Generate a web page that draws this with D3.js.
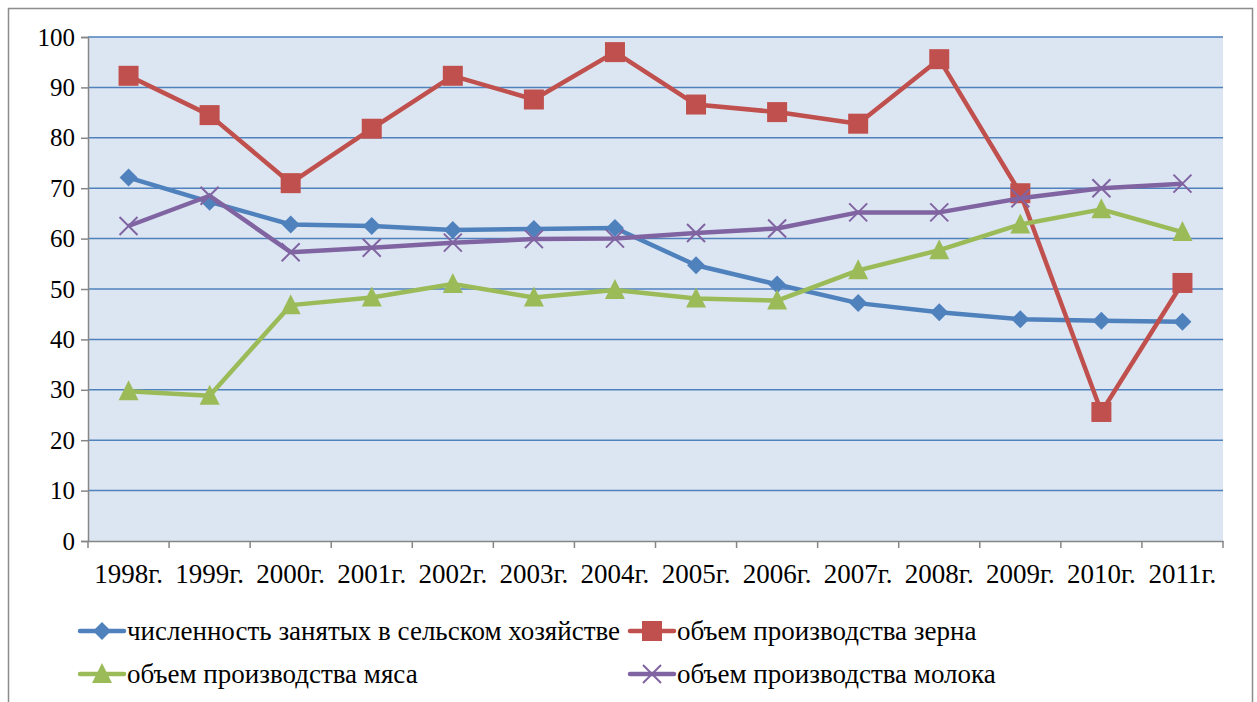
<!DOCTYPE html>
<html>
<head>
<meta charset="utf-8">
<script src="https://cdn.jsdelivr.net/npm/d3@7"></script>
<style>
  body { margin: 0; background: #fff; }
  svg { display: block; }
</style>
</head>
<body>
<div id="chart"></div>
<script>
// data
var years = ["1998г.", "1999г.", "2000г.", "2001г.", "2002г.", "2003г.", "2004г.",
             "2005г.", "2006г.", "2007г.", "2008г.", "2009г.", "2010г.", "2011г."];
var workers = [72.1, 67.3, 62.8, 62.5, 61.7, 61.9, 62.1, 54.7, 50.9, 47.2, 45.4, 44.0, 43.7, 43.5];
var grain   = [92.3, 84.5, 71.0, 81.8, 92.3, 87.6, 97.0, 86.6, 85.1, 82.8, 95.6, 69.0, 25.6, 51.2];
var meat    = [29.7, 28.8, 46.8, 48.3, 51.0, 48.3, 49.8, 48.1, 47.7, 53.7, 57.7, 62.8, 65.8, 61.3];
var milk    = [62.5, 68.5, 57.3, 58.2, 59.2, 59.9, 60.0, 61.1, 62.0, 65.2, 65.2, 68.0, 70.0, 70.9];
var yTicks  = [0, 10, 20, 30, 40, 50, 60, 70, 80, 90, 100];

var seriesNames = ["численность занятых в сельском хозяйстве", "объем производства зерна",
                   "объем производства мяса", "объем производства молока"];

var series = [
  {name: seriesNames[0], values: workers, color: "#4F81BD", marker: "diamond"},
  {name: seriesNames[1], values: grain,   color: "#C0504D", marker: "square"},
  {name: seriesNames[2], values: meat,    color: "#9BBB59", marker: "triangle"},
  {name: seriesNames[3], values: milk,    color: "#8064A2", marker: "cross"}
];

var W = 1257, H = 702;
var plot = {left: 88, right: 1223, top: 37, bottom: 541};
var fontFamily = "'Liberation Serif', 'Times New Roman', serif";

// set font as inline style so nothing overrides it
function setFont(sel, size){
  sel.style("font-family", fontFamily, "important")
     .style("font-size", size, "important")
     .style("fill", "#000");
}

var svg = d3.select("#chart").append("svg")
    .attr("width", W).attr("height", H);

// outer frame
svg.append("rect")
   .attr("x", 8.5).attr("y", 8.5)
   .attr("width", 1244).attr("height", 720)
   .attr("fill", "#fff")
   .attr("stroke", "#8c8c8c").attr("stroke-width", 1.5);

var xScale = d3.scaleBand()
    .domain(years)
    .range([plot.left, plot.right]);

var yScale = d3.scaleLinear()
    .domain([0, 100])
    .range([plot.bottom, plot.top]);

// plot background
svg.append("rect")
   .attr("x", plot.left).attr("y", plot.top)
   .attr("width", plot.right - plot.left)
   .attr("height", plot.bottom - plot.top)
   .attr("fill", "#DCE6F2");

// gridlines
svg.append("g")
   .selectAll("line")
   .data(yTicks.filter(function(d){ return d > 0; }))
   .enter()
   .append("line")
   .attr("x1", plot.left).attr("x2", plot.right)
   .attr("y1", function(d){ return yScale(d); })
   .attr("y2", function(d){ return yScale(d); })
   .attr("stroke", "#4F81BD").attr("stroke-width", 1.5);

// y axis
var yAxis = svg.append("g")
   .attr("transform", "translate(" + plot.left + ",0)")
   .call(d3.axisLeft(yScale).tickValues(yTicks).tickSize(7).tickPadding(6));

// x axis
var xAxis = svg.append("g")
   .attr("transform", "translate(0," + plot.bottom + ")")
   .call(d3.axisBottom(xScale).tickSize(0).tickPadding(23));

// x ticks on category boundaries
xAxis.append("g")
   .selectAll("line")
   .data(d3.range(years.length + 1))
   .enter()
   .append("line")
   .attr("x1", function(i){ return plot.left + i * xScale.step(); })
   .attr("x2", function(i){ return plot.left + i * xScale.step(); })
   .attr("y1", 0).attr("y2", 7)
   .attr("stroke", "#868686").attr("stroke-width", 1.5);

[xAxis, yAxis].forEach(function(ax){
  ax.attr("font-family", null).attr("font-size", null);
  ax.select(".domain").attr("stroke", "#868686").attr("stroke-width", 1.5);
  ax.selectAll(".tick line").attr("stroke", "#868686").attr("stroke-width", 1.5);
});
setFont(xAxis.selectAll("text"), "27px");
setFont(yAxis.selectAll("text"), "25px");

function xPos(i){ return xScale(years[i]) + xScale.bandwidth() / 2; }

function drawMarker(g, type, color, x, y){
  if (type === "diamond") {
    g.append("path")
     .attr("d", "M" + x + "," + (y - 9) + "L" + (x + 9) + "," + y + "L" + x + "," + (y + 9) + "L" + (x - 9) + "," + y + "Z")
     .attr("fill", color);
  } else if (type === "square") {
    g.append("rect")
     .attr("x", x - 10).attr("y", y - 10)
     .attr("width", 20).attr("height", 20)
     .attr("fill", color);
  } else if (type === "triangle") {
    g.append("path")
     .attr("d", "M" + x + "," + (y - 11) + "L" + (x + 10) + "," + (y + 9) + "L" + (x - 10) + "," + (y + 9) + "Z")
     .attr("fill", color);
  } else {
    g.append("path")
     .attr("d", "M" + (x - 9) + "," + (y - 9) + "L" + (x + 9) + "," + (y + 9) + "M" + (x - 9) + "," + (y + 9) + "L" + (x + 9) + "," + (y - 9))
     .attr("stroke", color).attr("stroke-width", 2).attr("fill", "none");
  }
}

var line = d3.line()
    .x(function(d, i){ return xPos(i); })
    .y(function(d){ return yScale(d); });

// lines and markers
series.forEach(function(s){
  var g = svg.append("g");
  g.append("path")
   .attr("d", line(s.values))
   .attr("fill", "none")
   .attr("stroke", s.color)
   .attr("stroke-width", 4.5)
   .attr("stroke-linejoin", "round");
  s.values.forEach(function(v, i){
    drawMarker(g, s.marker, s.color, xPos(i), yScale(v));
  });
});

// legend
var legendPos = [
  {x: 80, y: 631}, {x: 630, y: 631},
  {x: 80, y: 674}, {x: 630, y: 674}
];
series.forEach(function(s, i){
  var p = legendPos[i];
  var g = svg.append("g");
  g.append("line")
   .attr("x1", p.x).attr("x2", p.x + 44)
   .attr("y1", p.y).attr("y2", p.y)
   .attr("stroke", s.color).attr("stroke-width", 4.5)
   .attr("stroke-linecap", "round");
  drawMarker(g, s.marker, s.color, p.x + 22, p.y);
  g.append("text")
   .attr("x", p.x + 47).attr("y", p.y)
   .attr("dy", "0.35em")
   .text(s.name)
   .call(setFont, "27px");
});
</script>
</body>
</html>
